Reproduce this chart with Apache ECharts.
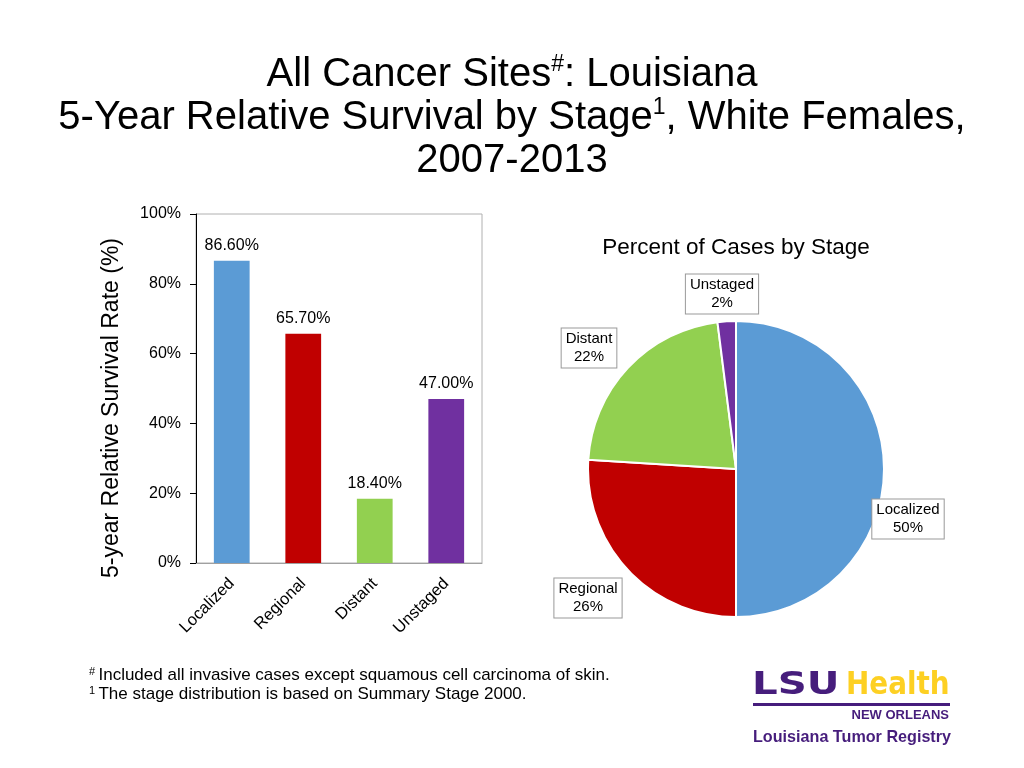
<!DOCTYPE html>
<html>
<head>
<meta charset="utf-8">
<script src="https://cdn.jsdelivr.net/npm/echarts@6/dist/echarts.min.js"></script>
<style>html,body{margin:0;padding:0;background:#fff;}#c{width:1024px;height:768px;}</style>
</head>
<body>
<div id="c"></div>
<script>
const categories = ['Localized', 'Regional', 'Distant', 'Unstaged'];
const survivalRates = [86.6, 65.7, 18.4, 47.0];
const caseShares = [50, 26, 22, 2];
const yTicks = [0, 20, 40, 60, 80, 100];
const stageColors = ['#5B9BD5', '#C00000', '#92D050', '#7030A0'];

const FONT = '"Liberation Sans", Arial, Helvetica, sans-serif';
const chart = echarts.init(document.getElementById('c'), null, {renderer: 'canvas'});

const pieCenter = [736, 469];
const pieR = 148;
// label centre positions relative to pie centre (dx, dy)
const pieLabelOffsets = [[172, 50], [-148, 129], [-147, -121], [-14, -175]];

const supRich = {s: {fontSize: 11, fontFamily: FONT, verticalAlign: 'top', padding: [0, 0, 7, 0], color: '#000'}, t: {fontSize: 17, fontFamily: FONT, color: '#000'}};

const option = {
  backgroundColor: '#fff',
  textStyle: {fontFamily: FONT},
  title: [{
    text: 'All Cancer Sites{sup|#}: Louisiana\n5-Year Relative Survival by Stage{sup|1}, White Females,\n2007-2013',
    left: 'center', top: 48,
    textStyle: {
      fontFamily: FONT, fontSize: 40, fontWeight: 'normal', color: '#000', lineHeight: 43,
      rich: {sup: {fontFamily: FONT, fontSize: 23, verticalAlign: 'top', lineHeight: 43, padding: [0, 0, 16, 0], color: '#000'}}
    }
  }, {
    text: 'Percent of Cases by Stage',
    left: 731, top: 231, textAlign: 'center',
    textStyle: {fontFamily: FONT, fontSize: 22.5, fontWeight: 'normal', color: '#000'}
  }],
  grid: {left: 196, top: 214, width: 286, height: 349, show: true, borderColor: '#b0b0b0', borderWidth: 1, backgroundColor: 'transparent'},
  xAxis: {
    type: 'category', data: categories,
    axisLine: {lineStyle: {color: '#a0a0a0'}},
    axisTick: {show: false},
    axisLabel: {rotate: 45, fontSize: 16.5, color: '#000', fontFamily: FONT, margin: 18}
  },
  yAxis: {
    type: 'value', min: yTicks[0], max: yTicks[yTicks.length - 1], interval: 20,
    axisLine: {show: true, lineStyle: {color: '#000'}},
    axisTick: {show: true, length: 6, lineStyle: {color: '#000'}},
    splitLine: {show: false},
    axisLabel: {formatter: '{value}%', fontSize: 16, color: '#000', fontFamily: FONT, margin: 15}
  },
  series: [{
    type: 'bar',
    data: survivalRates.map((v, i) => ({value: v, itemStyle: {color: stageColors[i]}})),
    barWidth: '50%',
    label: {show: true, position: 'top', distance: 7, fontSize: 16, color: '#000', fontFamily: FONT,
      formatter: p => p.value.toFixed(2) + '%'}
  }, {
    type: 'pie',
    center: pieCenter, radius: pieR,
    startAngle: 90, clockwise: true,
    data: categories.map((c, i) => ({name: c, value: caseShares[i], itemStyle: {color: stageColors[i]}})),
    itemStyle: {borderColor: '#fff', borderWidth: 2},
    label: {show: true, position: 'outside', formatter: p => p.name + '\n' + p.value + '%',
      fontSize: 15, lineHeight: 18, color: '#000', fontFamily: FONT, align: 'center',
      backgroundColor: '#fff', borderColor: '#999', borderWidth: 1, padding: [2, 4, 1, 4]},
    labelLine: {show: false},
    labelLayout: function (p) {
      const o = pieLabelOffsets[p.dataIndex];
      return {x: pieCenter[0] + o[0], y: pieCenter[1] + o[1], align: 'center', verticalAlign: 'middle'};
    },
    emphasis: {disabled: true}
  }],
  graphic: [
    {type: 'text', x: 112, y: 408, rotation: Math.PI / 2,
      style: {text: '5-year Relative Survival Rate (%)', font: '23px ' + FONT, fill: '#000', align: 'center', verticalAlign: 'middle'}},
    {type: 'text', x: 89, y: 666, style: {rich: supRich, text: '{s|#} {t|Included all invasive cases except squamous cell carcinoma of skin.}'}},
    {type: 'text', x: 89, y: 685, style: {rich: supRich, text: '{s|1} {t|The stage distribution is based on Summary Stage 2000.}'}},
    // logo
    {type: 'text', x: 752, y: 670, scaleX: 1.26, style: {text: 'LSU', font: 'bold 32px "DejaVu Sans"', fill: '#461D7C'}},
    {type: 'text', x: 846, y: 670, scaleX: 0.87, style: {text: 'Health', font: 'bold 32px "DejaVu Sans"', fill: '#FDD023'}},
    {type: 'rect', shape: {x: 753, y: 703, width: 197, height: 3}, style: {fill: '#461D7C'}},
    {type: 'text', x: 949, y: 709, style: {text: 'NEW ORLEANS', font: 'bold 13px ' + FONT, fill: '#461D7C', align: 'right'}},
    {type: 'text', x: 753, y: 729, scaleX: 0.95, style: {text: 'Louisiana Tumor Registry', font: 'bold 17px ' + FONT, fill: '#461D7C'}}
  ]
};
chart.setOption(option);
</script>
</body>
</html>
